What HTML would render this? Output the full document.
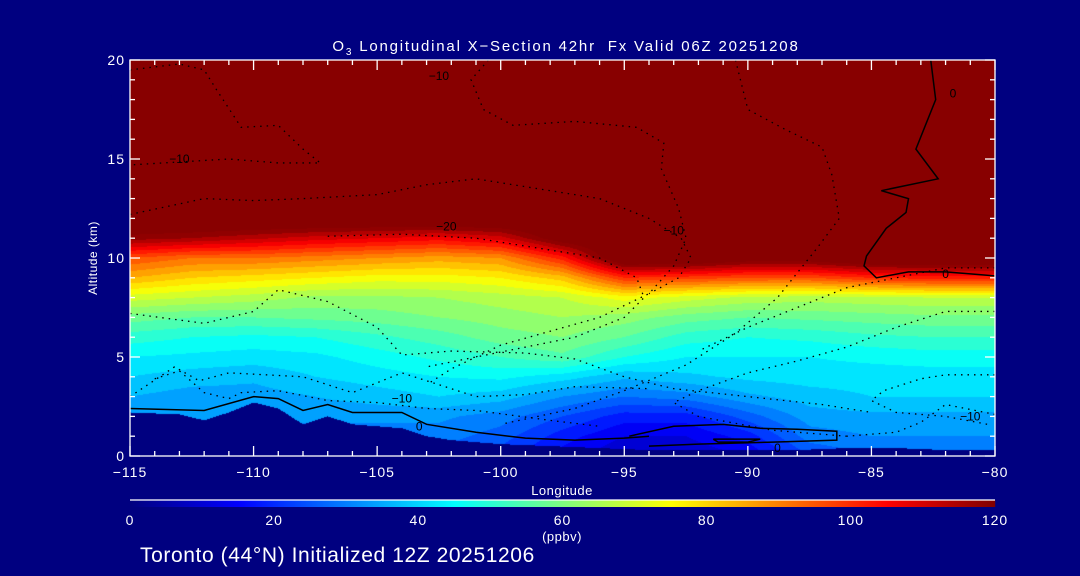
<!DOCTYPE html>
<html><head><meta charset="utf-8"><style>
html,body{margin:0;padding:0;background:#000080;width:1080px;height:576px;overflow:hidden}
svg text{font-family:"Liberation Sans",sans-serif;fill:#fff}
</style></head><body>
<div style="position:relative;width:1080px;height:576px">
<canvas id="field" width="865" height="396" style="position:absolute;left:130px;top:60px"></canvas>
<svg id="svg" width="1080" height="576" style="position:absolute;left:0;top:0"></svg>
</div>
<script>
const lons=[-115,-112.5,-110,-107.5,-105,-102.5,-100,-97.5,-95,-92.5,-90,-87.5,-85,-82.5,-80];
const alts=[0,1,2,3,4,5,6,7,8,9,10,11,12];
const ozone=[
[28,28,28,28,28,26,22,14,8,8,12,24,28,28,28],
[30,30,30,30,30,30,26,18,12,12,18,30,32,32,32],
[33,33,33,33,33,33,30,24,18,18,26,34,35,35,35],
[36,34,34,36,38,40,38,32,28,30,35,38,40,40,40],
[40,38,37,40,42,44,45,42,37,39,41,42,42,42,42],
[44,43,42,43,46,49,52,55,48,44,44,44,45,46,46],
[50,48,47,48,51,54,58,60,56,50,48,49,51,52,52],
[58,56,56,57,58,60,62,64,62,58,56,57,58,59,59],
[70,68,66,63,63,64,66,68,74,70,67,66,67,68,68],
[84,80,78,76,74,74,76,82,100,98,96,96,100,102,102],
[96,92,92,90,88,86,88,102,130,130,125,125,130,130,130],
[118,116,113,110,108,106,110,125,130,130,130,130,130,130,130],
[130,130,130,130,130,130,130,130,130,130,130,130,130,130,130]];
const surfLons=[-115,-113,-112,-111,-110,-109,-108,-107,-106,-105,-104,-103,-102,-100,-98,-96,-94,-92,-90,-88,-86,-84,-82,-80];
const surfAlt=[2.2,2.1,1.8,2.2,2.7,2.4,1.6,2.0,1.6,1.5,1.4,1.0,0.8,0.6,0.5,0.4,0.3,0.3,0.3,0.3,0.4,0.4,0.3,0.3];
const xTicks=[-115,-110,-105,-100,-95,-90,-85,-80];
const xTickLabels=["\u2212115","\u2212110","\u2212105","\u2212100","\u221295","\u221290","\u221285","\u221280"];
const yTicks=[0,5,10,15,20];
const cbTicks=[0,20,40,60,80,100,120];
const contourSolid=[
[[-115,2.4],[-112,2.3],[-110,3.0],[-109,2.9],[-108,2.3],[-107,2.6],[-106,2.2],[-105,2.2],[-104,2.2],[-103,1.6],[-101,1.2],[-99,0.9],[-97,0.8],[-95,0.9],[-94,1.0]],
[[-94.8,1.0],[-93,1.5],[-91,1.6],[-89.5,1.4],[-88,1.35],[-86.4,1.25],[-86.4,0.8],[-89,0.7],[-92,0.6],[-94,0.5]],
[[-91.4,0.85],[-89.5,0.85],[-90,0.7],[-91.2,0.7],[-91.4,0.85]],
[[-82.6,20],[-82.4,18],[-83.2,15.5],[-82.3,14],[-84.6,13.4],[-83.5,13.0],[-83.6,12.3],[-84.4,11.5],[-85.2,10.1],[-85.3,9.6],[-84.8,9.0],[-83.5,9.3],[-82,9.3],[-80,9.1]]];
const contourDotted=[
[[-115,19.5],[-113,19.8],[-112,19.5],[-111.5,18.5],[-110.5,16.6],[-109,16.7],[-108,15.5],[-107.3,14.8],[-109,14.8],[-111,15.0],[-115,14.7]],
[[-115,12.2],[-112,13.0],[-110,12.9],[-108,13.0],[-105,13.2],[-103,13.7],[-101,14.0],[-99,13.6],[-96,13.0],[-94,12.0],[-92.7,11.0],[-92.3,10.0],[-92.8,9.0],[-94,8.2]],
[[-100.5,20],[-101.2,19.0],[-100.7,17.5],[-99.5,16.7],[-97,16.9],[-94.5,16.6],[-93.4,15.8],[-93.5,14.5],[-92.8,12.5],[-92.5,11.0],[-93,9.6],[-94,8.2],[-96,7.0],[-98,6.3],[-100,5.6],[-102,4.4],[-103,3.6]],
[[-90.5,20],[-90.0,17.5],[-88.5,16.5],[-87.0,15.6],[-86.6,14.2],[-86.3,12.0],[-87.2,10.5],[-88.8,8.0],[-90.5,6.2],[-92.5,4.6],[-95,3.3],[-97,2.4],[-100,1.6]],
[[-107,11.1],[-104,11.2],[-101,11.0],[-98,10.4],[-96,10.0],[-94.5,9.0],[-94.2,8.0],[-95,7.0],[-97,6.0],[-99,5.5],[-101,5.0],[-103,4.5]],
[[-115,7.2],[-112,6.7],[-110,7.3],[-109,8.4],[-107,7.8],[-105,6.5],[-104,5.1],[-102,5.3],[-99,5.2],[-97,4.9],[-95,4.0],[-93,3.4],[-90,3.0],[-87,2.6],[-85,2.2]],
[[-114,3.9],[-113,4.3],[-112,3.2],[-111,2.9],[-110.5,3.2],[-109,3.3],[-107,2.8],[-105,2.7],[-103,2.4],[-101,2.3],[-98,1.8],[-96,1.5]],
[[-115,3.0],[-113.8,4.0],[-113.2,4.5],[-112.2,3.8],[-111,4.2],[-108,4.0],[-106,3.2],[-104,4.2],[-103,3.8],[-101,3.0],[-99,3.1],[-97,3.5],[-94,3.4]],
[[-80,9.5],[-82,9.5],[-84,9.0],[-86,8.5],[-88,7.5],[-90,6.5],[-92,5.3]],
[[-80,7.3],[-82,7.3],[-84,6.5],[-86,5.5],[-88,4.8],[-90,4.2],[-92,3.3],[-93,2.7],[-92,2.0],[-89,1.3],[-86,1.0]],
[[-80,4.1],[-82,4.1],[-83,3.9],[-84.5,3.3],[-85,2.8],[-84,2.2],[-82,2.0],[-80.3,1.6]],
[[-80,2.1],[-82,2.6],[-83,1.7],[-84,1.2],[-86,1.0]]];
const labels=[["-10",-113,15],["-10",-102.5,19.2],["-20",-102.2,11.6],["-10",-93,11.4],["0",-82,9.2],["-10",-104,2.9],["0",-103.3,1.5],["0",-88.8,0.4],["-10",-81,2.0],["0",-81.7,18.3]];

const L=130,R=995,T=60,B=456;
const xS=v=>L+(v+115)/35*(R-L);
const yS=v=>B-v/20*(B-T);
function jet(v){let t=Math.max(0,Math.min(1,v/120));
 const f=(a)=>Math.max(0,Math.min(1,a));
 let r=f(Math.min(4*t-1.5,-4*t+4.5)),g=f(Math.min(4*t-0.5,-4*t+3.5)),b=f(Math.min(4*t+0.5,-4*t+2.5));
 return [r*255|0,g*255|0,b*255|0];}
function val(lon,alt){
 if(alt>=12)return 130;
 let i=Math.min(lons.length-2,Math.floor((lon+115)/2.5));let fx=(lon-lons[i])/2.5;
 let j=Math.min(alts.length-2,Math.floor(alt));let fy=alt-alts[j];
 const a=ozone[j][i],b=ozone[j][i+1],c=ozone[j+1][i],d=ozone[j+1][i+1];
 return a*(1-fx)*(1-fy)+b*fx*(1-fy)+c*(1-fx)*fy+d*fx*fy;}
function surf(lon){for(let k=0;k<surfLons.length-1;k++){if(lon<=surfLons[k+1]){const f=(lon-surfLons[k])/(surfLons[k+1]-surfLons[k]);return surfAlt[k]*(1-f)+surfAlt[k+1]*f;}}return surfAlt[surfAlt.length-1];}
const cv=document.getElementById('field'),ctx=cv.getContext('2d');
const W=cv.width,H=cv.height,img=ctx.createImageData(W,H);
for(let px=0;px<W;px++){const lon=-115+(px+0.5)/W*35;const s=surf(lon);
 for(let py=0;py<H;py++){const alt=20-(py+0.5)/H*20;let c;
  if(alt<s)c=[0,0,128];else{let v=val(lon,alt);if(v>=120)c=[136,0,0];else{v=Math.floor(v/4)*4+2;c=jet(v);}}
  const o=(py*W+px)*4;img.data[o]=c[0];img.data[o+1]=c[1];img.data[o+2]=c[2];img.data[o+3]=255;}}
ctx.putImageData(img,0,0);

const svg=document.getElementById('svg');const NS="http://www.w3.org/2000/svg";
function mk(tag,attrs,parent){const e=document.createElementNS(NS,tag);for(const k in attrs)e.setAttribute(k,attrs[k]);(parent||svg).appendChild(e);return e;}
function txt(s,x,y,size,anchor,name,ls){const e=mk('text',{x:x,y:y,'font-size':size,'text-anchor':anchor||'middle','letter-spacing':ls||0});e.textContent=s;


return e;}
const cg=mk('g',{});


contourSolid.forEach(c=>{const p=mk('polyline',{points:c.map(q=>xS(q[0])+','+yS(q[1])).join(' '),fill:'none',stroke:'#000','stroke-width':1.5},cg);

});
contourDotted.forEach(c=>{const p=mk('polyline',{points:c.map(q=>xS(q[0])+','+yS(q[1])).join(' '),fill:'none',stroke:'#000','stroke-width':1.3,'stroke-dasharray':'1.5 5'},cg);

});
labels.forEach(l=>{const e=mk('text',{x:xS(l[1]),y:yS(l[2])+4,'font-size':12,'text-anchor':'middle',style:'fill:#000'},cg);e.textContent=l[0].replace('-','\u2212');

});
const ax=mk('g',{stroke:'#fff','stroke-width':1.3,fill:'none'});


mk('rect',{x:L,y:T,width:R-L,height:B-T},ax);
for(let v=-115;v<=-80;v++){const maj=v%5===0;const x=xS(v);mk('line',{x1:x,y1:B,x2:x,y2:B-(maj?10:5)},ax);mk('line',{x1:x,y1:T,x2:x,y2:T+(maj?10:5)},ax);}
for(let v=0;v<=20;v++){const maj=v%5===0;const y=yS(v);mk('line',{x1:L,y1:y,x2:L+(maj?10:5),y2:y},ax);mk('line',{x1:R,y1:y,x2:R-(maj?10:5),y2:y},ax);}
xTicks.forEach((v,i)=>txt(xTickLabels[i],xS(v),477,14,'middle','x-tick-label',1));
yTicks.forEach(v=>txt(String(v),125,yS(v)+5,14,'end','y-tick-label',1));
txt('Longitude',562,495,13,'middle','x-axis-title',0.5);
const yt=txt('Altitude (km)',0,0,12,'middle','y-axis-title',0.5);yt.setAttribute('transform','translate(97,258) rotate(-90)');
const ti=txt('',566,51,15,'middle','chart-title',1.8);ti.innerHTML='O<tspan font-size="10" dy="4">3</tspan><tspan dy="-4"> Longitudinal X\u2212Section 42hr\u00a0\u00a0Fx Valid 06Z 20251208</tspan>';
const cb=mk('g',{});


for(let i=0;i<R-L;i++){const c=jet(i/(R-L)*120);mk('rect',{x:L+i,y:500,width:1.2,height:7,fill:`rgb(${c[0]},${c[1]},${c[2]})`},cb);}
mk('line',{x1:L,y1:500,x2:R,y2:500,stroke:'#fff','stroke-width':1.3},cb);
cbTicks.forEach(v=>txt(String(v),L+v/120*(R-L),525,14,'middle','colorbar-tick-label',1));
txt('(ppbv)',562,541,13,'middle','colorbar-unit',0.5);
txt('Toronto (44\u00b0N) Initialized 12Z 20251206',140,562,21,'start','footer-text',0.6);
</script>
</body></html>
